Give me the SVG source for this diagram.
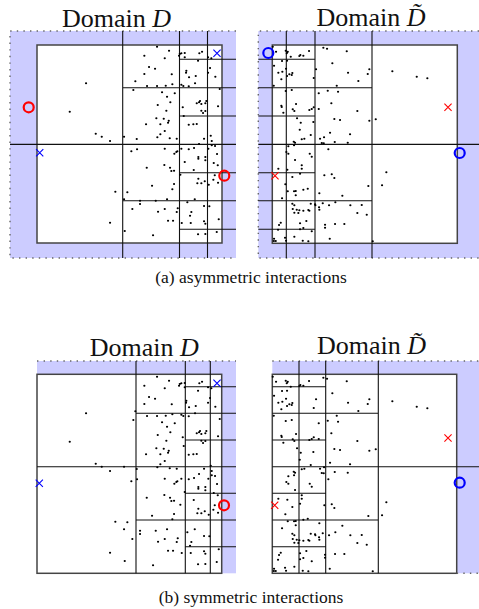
<svg xmlns="http://www.w3.org/2000/svg" xmlns:xlink="http://www.w3.org/1999/xlink" width="479" height="609" viewBox="0 0 479 609">
  <style>
    .title { font-family: "Liberation Serif", "Times New Roman", serif; font-size: 26px; fill: #111; text-anchor: middle; }
    .caption { font-family: "Liberation Serif", "Times New Roman", serif; font-size: 17.5px; fill: #111; text-anchor: middle; }
    .halo { fill: #ccccff; stroke: none; }
    .domain { fill: #fff; stroke: #444; stroke-width: 1.5; }
    .cell { stroke: #111; stroke-width: 1.1; fill: none; }
    .edge { stroke: #666; stroke-width: 1.4; stroke-dasharray: 1.4 5.2; fill: none; }
    .pts { stroke: #000; stroke-width: 2.1; stroke-linecap: round; fill: none; }
    .ring-red { fill: none; stroke: #ff0000; stroke-width: 2.2; }
    .ring-blue { fill: none; stroke: #0000ff; stroke-width: 2.2; }
    .cross-red { stroke: #ff0000; stroke-width: 1.1; fill: none; }
    .cross-blue { stroke: #0000ff; stroke-width: 1.1; fill: none; }
  </style>
  <defs>
    <!-- particle positions, domain D -->
    <path id="ptsD" class="pts" d="M86 83.3h.1M69.7 111.7h.1M95.7 133.7h.1M101.7 136.7h.1M110 141h.1M115.3 191.7h.1M110 222.7h.1M157 46.7h.1M169 50.7h.1M144.3 55.7h.1M164.7 58.3h.1M179.7 54h.1M179 55.7h.1M181.3 53.3h.1M184.7 53h.1M184.7 57.3h.1M199.3 53.3h.1M202 51.7h.1M208 57.3h.1M198 60.7h.1M211.3 58.3h.1M149 67h.1M155 68.7h.1M144.3 74h.1M171.7 74.3h.1M186.3 70.7h.1M186 72.7h.1M189 77.3h.1M195.7 76h.1M210 68h.1M208 72.7h.1M215.3 76.7h.1M195 83.3h.1M135.3 81.3h.1M147 86h.1M157 86h.1M165.7 85.7h.1M172.3 84.3h.1M181.3 84.7h.1M183.3 86h.1M188.7 86.3h.1M133.3 90h.1M162 92.3h.1M174.7 93.3h.1M167 96.7h.1M170.3 102.3h.1M157.7 105h.1M219.7 89h.1M196.7 103.3h.1M199 102.3h.1M200 101h.1M201.3 104h.1M206.3 101h.1M205.3 103.3h.1M182.7 107.3h.1M218 106.3h.1M166.3 110.7h.1M201.3 110.7h.1M203 113h.1M205.3 111h.1M183.7 116h.1M156.3 118.3h.1M163.7 118.7h.1M168.7 120.7h.1M168 122.7h.1M146 124.3h.1M160.3 124.3h.1M188.7 124.7h.1M193.3 124.3h.1M196.7 124h.1M164.7 131h.1M160.3 134.3h.1M124 136.7h.1M136.7 139h.1M157.3 137.3h.1M169.7 138.3h.1M176.7 138.7h.1M204 138.7h.1M210.7 135.7h.1M211.7 141h.1M199 144h.1M131.3 151.3h.1M137 149.3h.1M164.7 148.7h.1M174.3 153.7h.1M176.3 152h.1M177.3 151.3h.1M181.3 148.7h.1M188.7 149.3h.1M194 148h.1M211.7 145.3h.1M215 146h.1M208.3 148.7h.1M217 154h.1M198.3 157h.1M198.3 158.7h.1M205.3 157h.1M205.3 160.3h.1M184.7 162h.1M213.7 163h.1M217.7 165.3h.1M146.7 167.7h.1M164.3 165h.1M170 167.7h.1M171.3 171h.1M174 170.7h.1M193.7 170h.1M180.3 174.7h.1M198.3 178.7h.1M197.3 183.3h.1M201.3 183.3h.1M204.7 181.3h.1M214.7 175.3h.1M213.3 179.7h.1M208.7 184.7h.1M218 182.7h.1M174 184h.1M152 185.7h.1M172.3 189.3h.1M127.3 192.3h.1M187.3 202.3h.1M194.7 199.3h.1M124 199.3h.1M140 200.7h.1M140 204h.1M155.7 200.7h.1M167 199.3h.1M132.3 209h.1M158 211.7h.1M164.7 209h.1M177.7 208.3h.1M176.7 212h.1M204 206h.1M209.3 206.3h.1M191.3 212h.1M190 215.7h.1M218.7 219.3h.1M168 220.7h.1M173 220.7h.1M181.7 223h.1M190.7 223h.1M204 221.3h.1M205.3 223.7h.1M124.7 231h.1M153 235.3h.1M198 234.3h.1M205.3 234h.1M216.7 232h.1"/>
    <!-- particle positions, domain D-tilde -->
    <path id="ptsDt" class="pts" d="M272.7 46.7h.1M276 51.7h.1M285.7 50.7h.1M287.7 51.7h.1M286.7 53.3h.1M290.7 56.7h.1M299.3 56h.1M300.3 55h.1M303.3 55.7h.1M309 51h.1M323.3 47.7h.1M327 48.7h.1M346.7 51.3h.1M282 61h.1M287 60.7h.1M274 65.7h.1M332.3 63.3h.1M278.3 72.7h.1M282.3 71.7h.1M286 68.7h.1M289.3 74.3h.1M291.7 75h.1M292.3 73h.1M287 76h.1M281.3 79.3h.1M316 69.3h.1M348 72.7h.1M369.3 69.3h.1M367.7 74h.1M313.7 78h.1M358.3 81h.1M273.7 85.7h.1M336.7 85.7h.1M285.7 91h.1M291.7 90h.1M327.7 90.7h.1M338 91.7h.1M318.7 93.3h.1M281.3 105.7h.1M281.7 107h.1M296 104h.1M331.3 103.3h.1M292.7 109.3h.1M294.3 111h.1M283.3 112.7h.1M313.7 107.3h.1M311.7 109h.1M309.3 110h.1M318.7 109h.1M357.3 111h.1M297 118.3h.1M300.7 122.7h.1M313.3 122h.1M334.3 119h.1M340 120h.1M369.3 120.7h.1M375.7 119.3h.1M299.7 129.7h.1M330 132.7h.1M320 138.7h.1M324 137.3h.1M304.3 138.7h.1M301.7 139.3h.1M310.7 135h.1M350 134.3h.1M293.7 141.7h.1M334.7 142h.1M323.7 143.3h.1M288.3 146.3h.1M294 145.3h.1M295 142.7h.1M321.7 143h.1M328.3 149.3h.1M347.7 142.7h.1M286.3 152h.1M288.3 153.7h.1M309.7 153.7h.1M311.7 156.7h.1M295 160h.1M301.7 165.3h.1M301.7 168.7h.1M278.3 168.7h.1M287.3 169.7h.1M292.3 177h.1M300 173.7h.1M324.3 175.3h.1M331.7 174.3h.1M334.3 178h.1M368.3 186h.1M285.3 184.3h.1M294 191.3h.1M295.7 191h.1M295.7 195.3h.1M287.7 191.3h.1M303.3 189.7h.1M307.7 188.7h.1M319.3 193.3h.1M342.3 195.7h.1M282 198.3h.1M292.3 203.7h.1M294.3 205.3h.1M310.7 203.7h.1M315 204.3h.1M315.3 205.3h.1M322.7 203.3h.1M329 205.3h.1M335.3 202.3h.1M350.3 205.3h.1M361.7 205h.1M319 207.3h.1M319.3 209.7h.1M292.7 209h.1M296.7 209.7h.1M294.3 212.7h.1M299.3 210.3h.1M303.3 210.7h.1M308.3 210h.1M309.3 210.7h.1M298.3 213h.1M366.7 214.7h.1M357.3 213h.1M306.3 221h.1M325 224.7h.1M325 227.7h.1M335 224h.1M344.3 224h.1M280.7 222.7h.1M279 225h.1M300 223.3h.1M278 229.7h.1M300 229.3h.1M303.3 228h.1M311.7 231.3h.1M294.3 236.7h.1M329.7 238.7h.1M274 238.7h.1M275.7 241h.1M273.7 241h.1M285 237.7h.1M286 240.7h.1M302.7 240.7h.1M308.3 241.3h.1M372.7 241.3h.1M392.3 71.3h.1M416.7 76.7h.1M427.3 78.3h.1M386.3 172.3h.1M382 185.3h.1"/>
    <path id="xmark" d="M-3.6 -3.6L3.6 3.6M-3.6 3.6L3.6 -3.6"/>
  </defs>

  <!-- (a) asymmetric: domain D -->
  <g id="panel-a-D">
    <text class="title" x="116.5" y="26.5">Domain <tspan font-style="italic">D</tspan></text>
    <rect class="halo" x="10" y="31" width="226" height="227"/>
    <rect class="domain" x="37" y="45" width="185" height="198"/>
    <path class="edge" d="M236 31H10V258H236"/>
    <path class="cell" d="M122.7 31V258M179.5 31V258M207.5 31V258M10 144.4H236M122.7 87.7H236M122.7 200.7H236M179.5 59.3H236M179.5 116H236M179.5 172.7H236M179.5 229.3H236"/>
    <use xlink:href="#ptsD"/>
    <circle class="ring-red" cx="28.7" cy="107.3" r="5"/>
    <circle class="ring-red" cx="224.3" cy="175.7" r="5"/>
    <use xlink:href="#xmark" class="cross-blue" transform="translate(39.7 152.7)"/>
    <use xlink:href="#xmark" class="cross-blue" transform="translate(217 53.3)"/>
  </g>

  <!-- (a) asymmetric: domain D-tilde -->
  <g id="panel-a-Dt">
    <text class="title" x="371" y="25.5">Domain <tspan font-style="italic">D&#x303;</tspan></text>
    <rect class="halo" x="258.3" y="31" width="221" height="227"/>
    <rect class="domain" x="272.3" y="45" width="185" height="198.3"/>
    <path class="edge" d="M479 31H258.3V258H479"/>
    <path class="cell" d="M286.3 31V258M315 31V258M372 31V258M258.3 144.4H479M258.3 87.7H372M258.3 200.7H372M258.3 59.3H315M258.3 116H315M258.3 172.7H315M258.3 229.3H315"/>
    <use xlink:href="#ptsDt"/>
    <circle class="ring-blue" cx="268.3" cy="53" r="5"/>
    <circle class="ring-blue" cx="459.7" cy="153" r="5"/>
    <use xlink:href="#xmark" class="cross-red" transform="translate(448 107.3)"/>
    <use xlink:href="#xmark" class="cross-red" transform="translate(275 175.7)"/>
  </g>

  <text id="caption-a" class="caption" x="251" y="283">(a) asymmetric interactions</text>

  <!-- (b) symmetric: domain D -->
  <g id="panel-b-D">
    <text class="title" x="144.3" y="355.7">Domain <tspan font-style="italic">D</tspan></text>
    <rect class="halo" x="37" y="361" width="199" height="212.3"/>
    <rect class="domain" x="37" y="374.3" width="184.7" height="199"/>
    <path class="edge" d="M37 361H236"/>
    <path class="cell" d="M136 361V573.3M185.3 361V573.3M210.3 361V573.3M37 466.7H236M136 413.3H236M136 520H236M185.3 386.7H236M185.3 440H236M185.3 493.3H236M185.3 546.7H236"/>
    <use xlink:href="#ptsD" transform="translate(0 330)"/>
    <circle class="ring-red" cx="224" cy="505.3" r="5"/>
    <use xlink:href="#xmark" class="cross-blue" transform="translate(39.3 483.3)"/>
    <use xlink:href="#xmark" class="cross-blue" transform="translate(217 383.3)"/>
  </g>

  <!-- (b) symmetric: domain D-tilde -->
  <g id="panel-b-Dt">
    <text class="title" x="371.5" y="354.3">Domain <tspan font-style="italic">D&#x303;</tspan></text>
    <rect class="halo" x="272.3" y="361" width="207" height="212.3"/>
    <rect class="domain" x="272.3" y="374.3" width="184.4" height="199"/>
    <path class="edge" d="M272.3 361H479M456.7 573.3H479"/>
    <path class="cell" d="M299 361V573.3M325.7 361V573.3M378.3 361V573.3M272.3 466.7H479M272.3 413.3H378.3M272.3 520H378.3M272.3 386.7H325.7M272.3 440H325.7M272.3 493.3H325.7M272.3 546.7H325.7"/>
    <use xlink:href="#ptsDt" transform="translate(0 330)"/>
    <circle class="ring-blue" cx="459.7" cy="482.7" r="5"/>
    <use xlink:href="#xmark" class="cross-red" transform="translate(448 438)"/>
    <use xlink:href="#xmark" class="cross-red" transform="translate(274.7 505.3)"/>
  </g>

  <text id="caption-b" class="caption" x="251" y="603">(b) symmetric interactions</text>
</svg>
